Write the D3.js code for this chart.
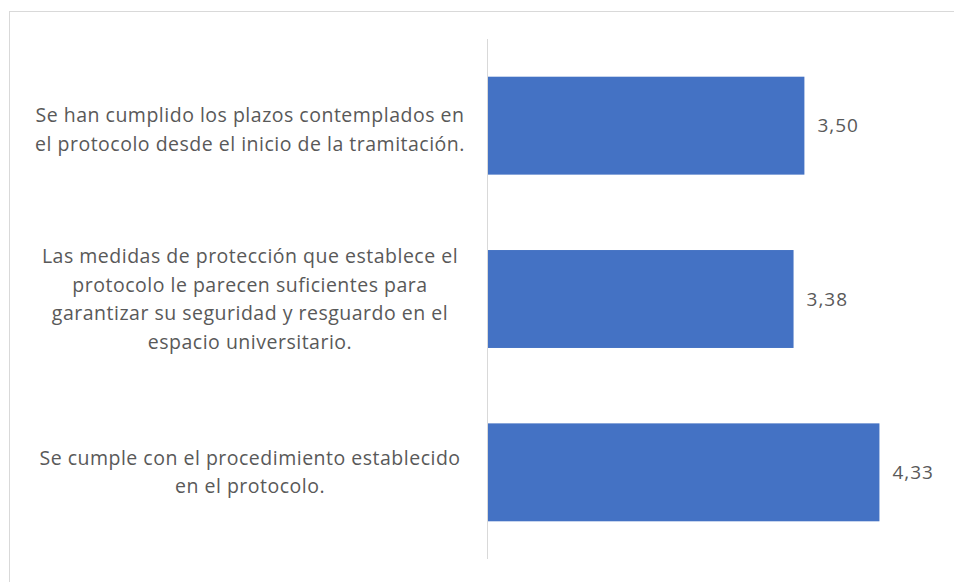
<html>
<script src="https://d3js.org/d3.v7.min.js"></script>
<style>
body {margin: 0; background: white;}
text {font-family: "Open Sans", sans-serif; fill: #595959;}
</style>
<body>
<svg width="954" height="582"></svg>
<script>

// categories (wrapped the way the picture shows them)
var categories = [
  ["Se han cumplido los plazos contemplados en", "el protocolo desde el inicio de la tramitación."],
  ["Las medidas de protección que establece el", "protocolo le parecen suficientes para", "garantizar su seguridad y resguardo en el", "espacio universitario."],
  ["Se cumple con el procedimiento establecido", "en el protocolo."]
];
var values = [3.50, 3.38, 4.33];
var valueLabels = ["3,50", "3,38", "4,33"];

var svg = d3.select("svg");

// outer frame
svg.append("rect")
    .attr("x", 9.5).attr("y", 11.5)
    .attr("width", 960).attr("height", 600)
    .attr("fill", "none")
    .attr("stroke", "#d9d9d9");

var x = d3.scaleLinear()
    .domain([0, 5])
    .range([488, 488 + 452]);

var y = d3.scaleBand()
    .domain(d3.range(values.length))
    .range([39, 559])
    .paddingInner(0.435)
    .paddingOuter(0.2175);

// bars
svg.append("g").selectAll("rect")
  .data(values)
  .enter()
  .append("rect")
    .attr("x", x(0))
    .attr("y", function(d, i) { return y(i); })
    .attr("width", function(d) { return x(d) - x(0); })
    .attr("height", y.bandwidth())
    .attr("fill", "#4472c4");

// vertical axis line
svg.append("line")
    .attr("x1", x(0) - 0.5).attr("x2", x(0) - 0.5)
    .attr("y1", 39).attr("y2", 559)
    .attr("stroke", "#d9d9d9");

// value labels
svg.append("g").selectAll("text")
  .data(values)
  .enter()
  .append("text")
    .attr("x", function(d) { return x(d) + 13; })
    .attr("y", function(d, i) { return y(i) + y.bandwidth() / 2; })
    .attr("dy", "0.35em")
    .style("font-size", "19px")
    .style("letter-spacing", "1px")
    .text(function(d, i) { return valueLabels[i]; });

// category labels
var lineH = 28.5;
var cat = svg.append("g").selectAll("text")
  .data(categories)
  .enter()
  .append("text")
    .attr("text-anchor", "middle")
    .style("font-size", "19.5px")
    .style("letter-spacing", "0.5px")
    .attr("transform", function(d, i) {
      var cy = y(i) + y.bandwidth() / 2 + (i === 0 ? 4 : 0);
      return "translate(250," + (cy - (d.length - 1) * lineH / 2) + ")";
    });

cat.selectAll("tspan")
  .data(function(d) { return d; })
  .enter()
  .append("tspan")
    .attr("x", 0)
    .attr("y", function(d, j) { return j * lineH; })
    .attr("dy", "0.35em")
    .text(function(d) { return d; });

</script>
</body>
</html>
